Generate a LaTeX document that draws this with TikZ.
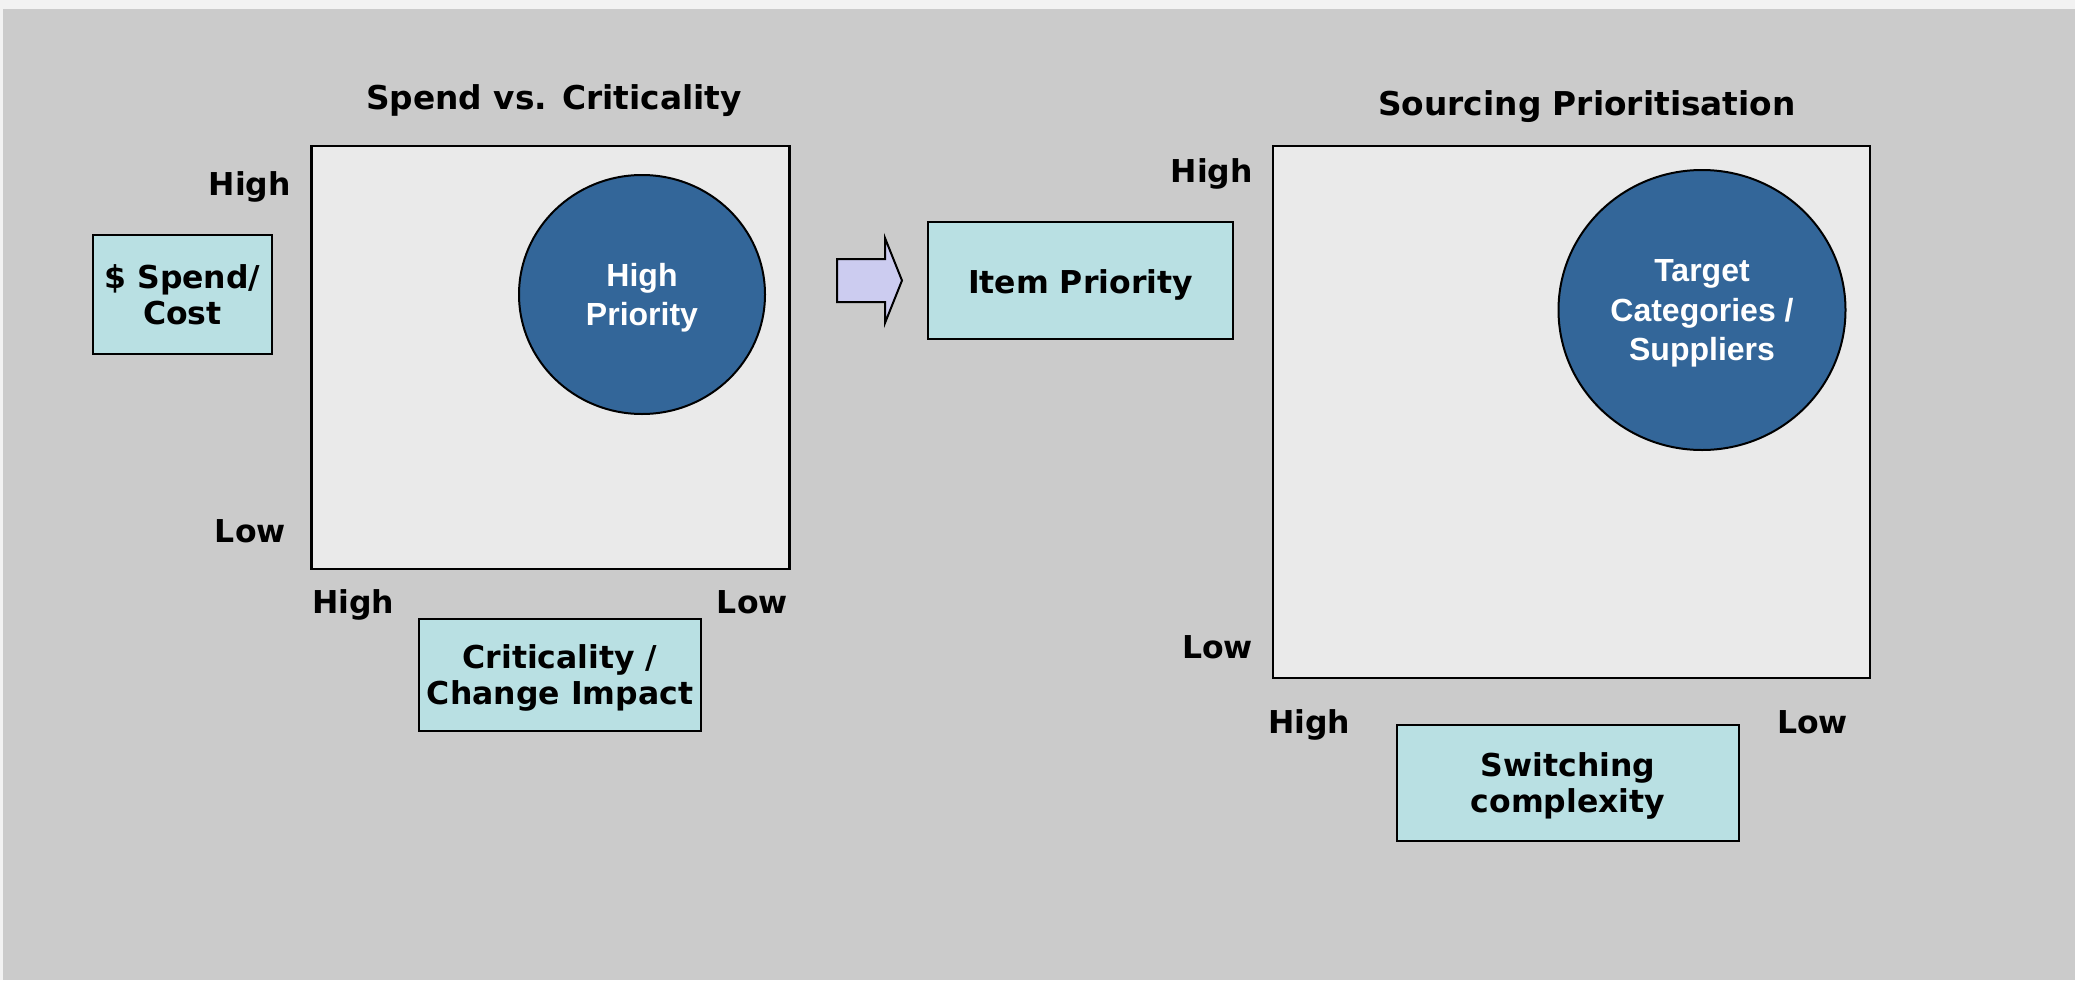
\documentclass[tikz,border=0pt]{standalone}
\usepackage{fontspec}
\setmainfont{DejaVu Sans}
\newfontfamily\arialfont{Liberation Sans}
\usetikzlibrary{shapes.geometric}
\definecolor{bggray}{RGB}{203,203,203}
\definecolor{topstrip}{RGB}{242,242,242}
\definecolor{matfill}{RGB}{234,234,234}
\definecolor{cyanbox}{RGB}{185,224,227}
\definecolor{circblue}{RGB}{51,102,153}
\definecolor{arrowfill}{RGB}{204,204,240}
\begin{document}
\begin{tikzpicture}[x=1pt,y=-1pt,
  lbl/.style={font=\fontsize{31.5}{36}\selectfont\bfseries, inner sep=0pt},
  ttl/.style={font=\fontsize{32.8}{38}\selectfont\bfseries, inner sep=0pt},
  cbox/.style={draw=black, line width=2.5pt, fill=cyanbox, align=center,
    font=\fontsize{31.5}{36}\selectfont\bfseries, inner sep=0pt, text depth=0pt},
  mat/.style={draw=black, line width=2.5pt, fill=matfill, inner sep=0pt},
  blob/.style={ellipse, draw=black, line width=2pt, fill=circblue, text=white,
    align=center, font=\arialfont\fontsize{32}{39.5}\selectfont\bfseries,
    inner sep=0pt, text depth=0pt}
]
\useasboundingbox (0,0) rectangle (2075,980);
\fill[topstrip] (0,0) rectangle (2075,980);
\fill[bggray] (3,9) rectangle (2075,980);

% ---- left matrix ----
\node[ttl, anchor=base] (t1) at (554,109) {Spend vs. Criticality};
\node[mat, minimum width=478pt, minimum height=423pt] (m1) at (550.5,357.5) {};
\node[blob, minimum width=246pt, minimum height=239pt] (c1) at (642,294.5) {High\\Priority};
\node[lbl, anchor=base east] (h1) at (291,195) {High};
\node[lbl, anchor=base east] (l1) at (286,542) {Low};
\node[lbl, anchor=base west] (h2) at (312,613) {High};
\node[lbl, anchor=base east] (l2) at (788,613) {Low};
\node[cbox, minimum width=179pt, minimum height=119pt] (spend) at (182.5,294.5) {\$ Spend/\\Cost};
\node[cbox, minimum width=282pt, minimum height=112pt] (crit) at (560,675) {Criticality /\\Change Impact};

% ---- block arrow ----
\draw[line width=2pt, fill=arrowfill, line join=miter]
  (837,259) -- (885,259) -- (885,238) -- (902,280.5) -- (885,323) -- (885,302) -- (837,302) -- cycle;

\node[cbox, minimum width=305pt, minimum height=117pt] (item) at (1080.5,280.5) {\raisebox{-2.5pt}{Item Priority}};

% ---- right matrix ----
\node[ttl, anchor=base] (t2) at (1587,115) {Sourcing Prioritisation};
\node[mat, minimum width=597pt, minimum height=532pt] (m2) at (1571.5,412) {};
\node[blob, minimum width=287pt, minimum height=280pt] (c2) at (1702,310) {Target\\Categories /\\Suppliers};
\node[lbl, anchor=base east] (h3) at (1253,182) {High};
\node[lbl, anchor=base east] (l3) at (1253,658) {Low};
\node[lbl, anchor=base west] (h4) at (1268,733) {High};
\node[lbl, anchor=base east] (l4) at (1848,733) {Low};
\node[cbox, minimum width=342pt, minimum height=116pt] (switch) at (1568,783) {Switching\\complexity};
\end{tikzpicture}
\end{document}
